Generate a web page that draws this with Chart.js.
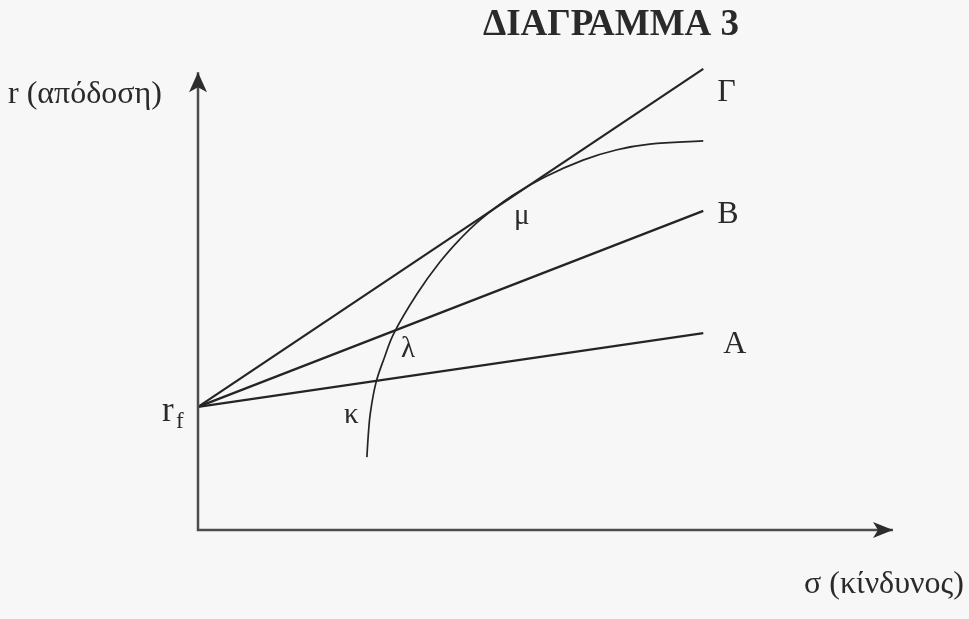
<!DOCTYPE html>
<html>
<head>
<meta charset="utf-8">
<script src="https://cdn.jsdelivr.net/npm/chart.js@4"></script>
<style>
  html, body { margin: 0; padding: 0; background: #f7f7f7; }
  #wrap { width: 969px; height: 619px; position: relative; }
</style>
</head>
<body>
<div id="wrap"><canvas id="diagram"></canvas></div>
<script>
// data (arbitrary units: sigma 0-100, r 0-100)
const rf = 26.2;
const lineEndX = 72.7;
const lineNames = ["Γ", "B", "A"];
const lineEndY = [98.1, 67.9, 41.9];

// efficient frontier curve (κ -> λ -> μ)
const frontierX = [24.3, 24.5, 24.8, 25.6, 26.8, 28.2, 31.5, 34.8, 37.7, 40.6, 45.2, 49.9, 55.4, 60.3, 65.0, 72.7];
const frontierY = [15.5, 20.2, 24.9, 31.3, 36.6, 41.9, 50.2, 57.0, 61.9, 66.0, 71.1, 75.1, 78.7, 80.9, 82.1, 82.8];

// axes (arrow tips)
const axisTipX = 100;
const axisTipY = 97.4;

const ink = "#242424";
const axisInk = "#4a4d4a";

const datasets = [];

// axes as lines
datasets.push({
  data: [{ x: 0, y: axisTipY }, { x: 0, y: 0 }, { x: axisTipX, y: 0 }],
  borderColor: axisInk,
  borderWidth: 2.5,
  tension: 0,
  clip: false,
});

// capital allocation lines from rf
lineEndY.forEach((y) => {
  datasets.push({
    data: [{ x: 0, y: rf }, { x: lineEndX, y: y }],
    borderColor: ink,
    borderWidth: 2.2,
    tension: 0,
    clip: false,
  });
});

// curve
datasets.push({
  data: frontierX.map((x, i) => ({ x: x, y: frontierY[i] })),
  borderColor: ink,
  borderWidth: 1.7,
  tension: 0.4,
  clip: false,
});

// arrowheads + texts
const decorations = {
  id: "decorations",
  afterDatasetsDraw(chart) {
    const c = chart.ctx;
    const sx = chart.scales.x;
    const sy = chart.scales.y;
    const ox = sx.getPixelForValue(0);
    const oy = sy.getPixelForValue(0);

    c.save();
    c.fillStyle = "#2d2d2d";
    // y-axis arrow
    const ty = sy.getPixelForValue(axisTipY);
    c.beginPath();
    c.moveTo(ox, ty);
    c.lineTo(ox + 9, ty + 20);
    c.lineTo(ox, ty + 15);
    c.lineTo(ox - 9, ty + 20);
    c.closePath();
    c.fill();
    // x-axis arrow
    const tx = sx.getPixelForValue(axisTipX);
    c.beginPath();
    c.moveTo(tx, oy);
    c.lineTo(tx - 20, oy - 8);
    c.lineTo(tx - 15, oy);
    c.lineTo(tx - 20, oy + 8);
    c.closePath();
    c.fill();

    // texts
    const serif = '"Liberation Serif", "DejaVu Serif", serif';
    c.fillStyle = "#2a2a2a";
    c.textBaseline = "alphabetic";

    c.font = "bold 37px " + serif;
    c.textAlign = "center";
    c.fillText("ΔΙΑΓΡΑΜΜΑ 3", 611, 35);

    c.textAlign = "left";
    c.font = "32px " + serif;
    c.fillText("r (απόδοση)", 8, 103);
    c.fillText("σ (κίνδυνος)", 804, 593);

    // line labels
    const ex = sx.getPixelForValue(lineEndX);
    const labelDx = [14, 14, 20];
    const labelDy = [32, 12, 20];
    c.font = "32px " + serif;
    lineNames.forEach((name, i) => {
      c.fillText(name, ex + labelDx[i], sy.getPixelForValue(lineEndY[i]) + labelDy[i]);
    });

    // rf
    const ry = sy.getPixelForValue(rf);
    c.font = "35px " + serif;
    c.fillText("r", ox - 36, ry + 14);
    c.font = "23px " + serif;
    c.fillText("f", ox - 22, ry + 21);

    // points on the frontier
    c.font = "29px " + serif;
    c.fillText("κ", 344, 423);
    c.fillText("λ", 401, 357);
    c.fillText("μ", 514, 224);
    c.restore();
  },
};

new Chart(document.getElementById("diagram"), {
  type: "line",
  data: { datasets: datasets },
  options: {
    responsive: true,
    maintainAspectRatio: false,
    animation: false,
    layout: { padding: { left: 198, right: 76, top: 60, bottom: 89 } },
    elements: { point: { radius: 0 } },
    plugins: { legend: { display: false }, tooltip: { enabled: false } },
    scales: {
      x: { type: "linear", min: 0, max: 100, display: false },
      y: { type: "linear", min: 0, max: 100, display: false },
    },
  },
  plugins: [decorations],
});
</script>
</body>
</html>
